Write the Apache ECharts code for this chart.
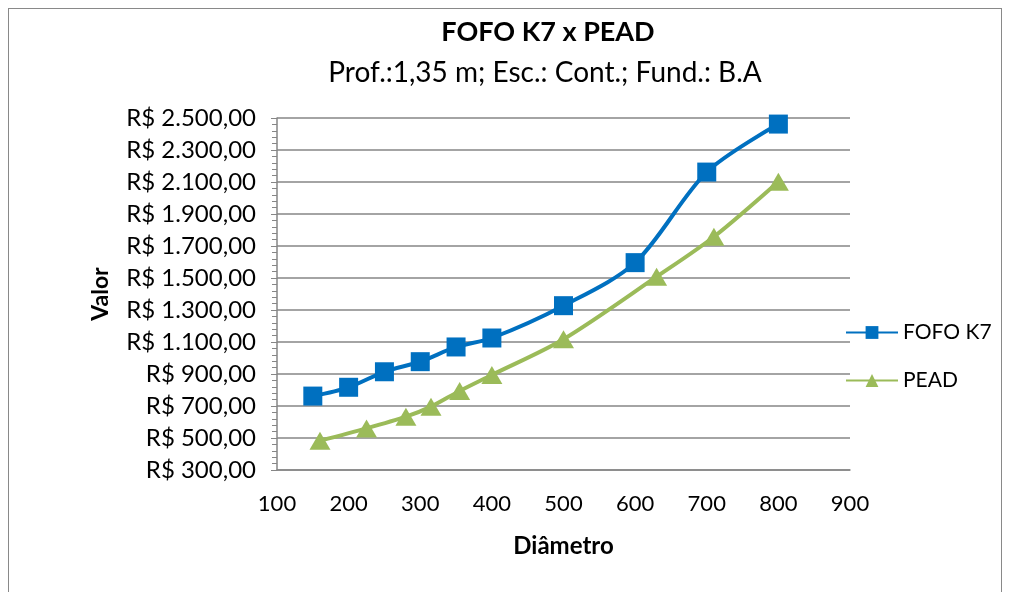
<!DOCTYPE html>
<html>
<head>
<meta charset="utf-8">
<script src="https://cdn.jsdelivr.net/npm/echarts@6/dist/echarts.min.js"></script>
<style>
  html, body { margin: 0; padding: 0; background: #fff; }
  #frame { position: absolute; left: 8px; top: 8px; width: 994px; height: 600px; border: 1px solid #898989; box-sizing: border-box; }
  #chart { width: 1011px; height: 592px; }
</style>
</head>
<body>
<div id="frame"></div>
<div id="chart"></div>
<script>
    // Diâmetro x Valor
    let fofoX = [150, 200, 250, 300, 350, 400, 500, 600, 700, 800],
        fofoY = [762, 817, 914, 977, 1069, 1125, 1327, 1596, 2162, 2462],
        peadX = [160, 225, 280, 315, 355, 400, 500, 630, 710, 800],
        peadY = [483, 560, 633, 696, 794, 894, 1117, 1508, 1758, 2102];

    let font = "Lato";

    function money(v) {
        let s = String(Math.round(v)).replace(/\B(?=(\d{3})+(?!\d))/g, ".");
        return "R$ " + s + ",00";
    }

    function pairs(xs, ys) {
        return xs.map(function(x, i) { return [x, ys[i]]; });
    }

    var chart = echarts.init(document.getElementById("chart"), null, { renderer: "canvas" });
    var option = {
        animation: false,
        textStyle: { fontFamily: font },
        title: [{
            text: "FOFO K7 x PEAD",
            left: 543, top: 14, textAlign: "center",
            textStyle: { fontFamily: font, fontSize: 27, fontWeight: "bold", color: "#000" }
        }, {
            text: "Prof.:1,35 m; Esc.: Cont.; Fund.: B.A",
            left: 540, top: 54, textAlign: "center",
            textStyle: { fontFamily: font, fontSize: 28, fontWeight: "normal", color: "#000" }
        }],
        legend: {
            orient: "vertical",
            left: 840, top: 317,
            itemWidth: 52, itemHeight: 16, itemGap: 27,
            textStyle: { fontFamily: font, fontSize: 21, color: "#000" },
            data: ["FOFO K7", "PEAD"]
        },
        grid: { left: 277, right: 161, top: 118, bottom: 122 },
        xAxis: {
            type: "value",
            min: 100, max: 900, interval: 100,
            name: "Diâmetro",
            nameLocation: "middle",
            nameGap: 64,
            nameTextStyle: { fontFamily: font, fontSize: 24, fontWeight: "bold", color: "#000" },
            axisLine: { lineStyle: { color: "#868686", width: 1.5 } },
            axisTick: { show: false },
            axisLabel: { fontFamily: font, fontSize: 22, color: "#000", margin: 23 },
            splitLine: { show: false }
        },
        yAxis: {
            type: "value",
            min: 300, max: 2500, interval: 200,
            name: "Valor",
            nameLocation: "middle",
            nameGap: 165,
            nameTextStyle: { fontFamily: font, fontSize: 23, fontWeight: "bold", color: "#000" },
            axisLine: { show: true, lineStyle: { color: "#868686", width: 1.5 } },
            axisTick: { show: true, length: 6, lineStyle: { color: "#868686" } },
            minorTick: { show: true, splitNumber: 5, length: 5, lineStyle: { color: "#868686" } },
            axisLabel: { fontFamily: font, fontSize: 24, color: "#000", margin: 21, formatter: money },
            splitLine: { show: true, lineStyle: { color: "#868686", width: 1.5 } }
        },
        series: [{
            name: "FOFO K7",
            type: "line",
            smooth: 0.3,
            symbol: "rect",
            symbolSize: 19,
            color: "#0070C0",
            lineStyle: { color: "#0070C0", width: 4 },
            itemStyle: { color: "#0070C0" },
            data: pairs(fofoX, fofoY)
        }, {
            name: "PEAD",
            type: "line",
            smooth: 0.3,
            symbol: "triangle",
            symbolSize: [21, 18],
            color: "#9BBB59",
            lineStyle: { color: "#9BBB59", width: 4 },
            itemStyle: { color: "#9BBB59" },
            data: pairs(peadX, peadY)
        }]
    };

    chart.setOption(option);
</script>
</body>
</html>
